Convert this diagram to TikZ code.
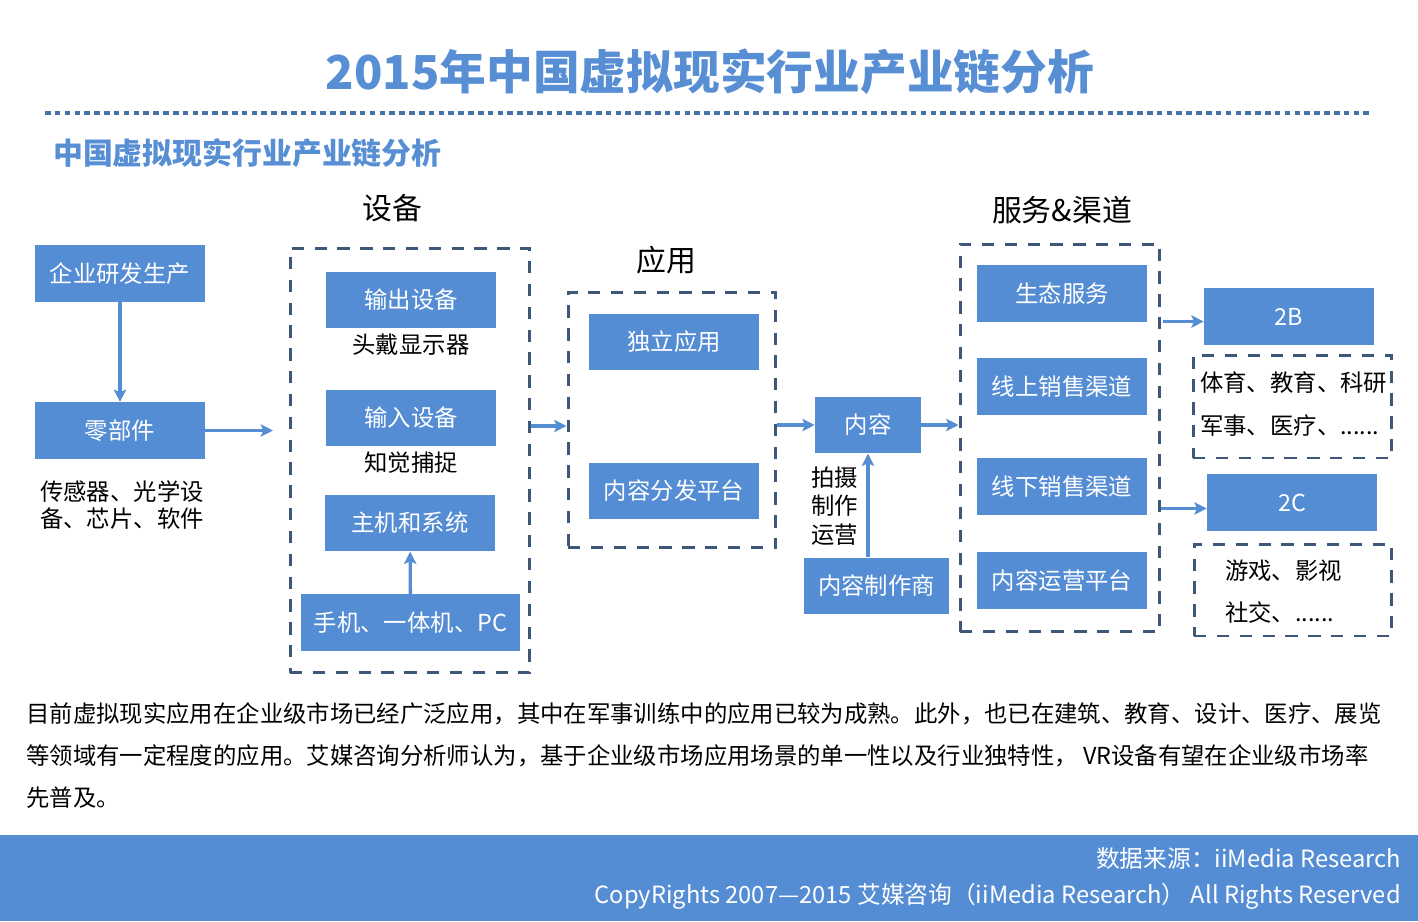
\documentclass[tikz,border=0pt]{standalone}
\usepackage{fontspec}
\setmainfont{Noto Sans CJK SC}
\usetikzlibrary{calc, positioning, arrows.meta}

\definecolor{vrblue}{RGB}{85,141,213}
\definecolor{vrtitle}{RGB}{88,143,212}
\definecolor{vrdash}{RGB}{62,88,122}

\begin{document}
\begin{tikzpicture}[x=0.02cm, y=-0.02cm,
	blk/.style={fill=vrblue, text=white, minimum width=3.4cm, minimum height=1.13cm, inner sep=0pt, font=\fontsize{13.3}{16}\selectfont},
	dbox/.style={draw=vrdash, line width=1.7pt, dash pattern=on 7pt off 6pt, inner sep=0pt},
	arr/.style={-{Stealth[length=7pt, width=7pt, inset=1.5pt]}, draw=vrblue, line width=1.9pt},
	lbl/.style={font=\fontsize{13.3}{16}\selectfont},
	head/.style={font=\fontsize{17}{20}\selectfont}]
	\useasboundingbox (0,0) rectangle (1418,921);

	% titles
	\node[font=\fontsize{26.6}{30}\selectfont\bfseries, text=vrtitle] (title) at (710,72) {2015年中国虚拟现实行业产业链分析};
	\draw[draw=vrtitle!80!black, line width=2.2pt, dash pattern=on 3.2pt off 2.4pt] (45,113) -- (1370,113);
	\node[font=\fontsize{17}{20}\selectfont\bfseries, text=vrtitle, anchor=west] (subtitle) at (47,153) {中国虚拟现实行业产业链分析};

	\node[head] (hsb) at (392,208) {设备};
	\node[head] (hyy) at (666,260) {应用};
	\node[head] (hfw) at (1062,210) {服务\&渠道};

	% dashed groups
	\node[dbox, minimum width=4.8cm, minimum height=8.5cm] (sbox) at (410,460.5) {};
	\node[dbox, minimum width=4.16cm, minimum height=5.12cm] (ybox) at (672,420) {};
	\node[dbox, minimum width=4cm, minimum height=7.76cm] (fbox) at (1060,438) {};
	\node[dbox, minimum width=3.98cm, minimum height=2.06cm] (bbox) at (1292.5,406.5) {};
	\node[dbox, minimum width=3.96cm, minimum height=1.84cm] (cbox) at (1293,590) {};

	% blocks
	\node[blk] (qiye) at (120,273.5) {企业研发生产};
	\node[blk] (ling) at (120,430.5) {零部件};
	\node[lbl, anchor=north west, align=left, font=\fontsize{13.3}{15.5}\selectfont] (lingtxt) at (34,474) {传感器、光学设\\备、芯片、软件};

	\node[blk] (shuchu) at (411,300) {输出设备};
	\node[lbl] (shuchutxt) at (411,345) {头戴显示器};
	\node[blk] (shuru) at (411,418) {输入设备};
	\node[lbl] (shurutxt) at (411,463) {知觉捕捉};
	\node[blk] (zhuji) at (410,523) {主机和系统};
	\node[blk, minimum width=4.38cm] (shouji) at (410.5,622.5) {手机、一体机、PC};

	\node[blk] (duli) at (674,342) {独立应用};
	\node[blk] (fenfa) at (674,491) {内容分发平台};

	\node[blk, minimum width=2.12cm] (neirong) at (868,425) {内容};
	\node[blk, minimum width=2.9cm] (zhizuo) at (876.5,586) {内容制作商};
	\node[lbl, anchor=east, align=left, font=\fontsize{13.3}{16.2}\selectfont] (paishe) at (864,506) {拍摄\\制作\\运营};

	\node[blk] (shengtai) at (1062,293.5) {生态服务};
	\node[blk] (xianshang) at (1062,386.5) {线上销售渠道};
	\node[blk] (xianxia) at (1062,486.5) {线下销售渠道};
	\node[blk] (yunying) at (1062,580.5) {内容运营平台};

	\node[blk] (tob) at (1289,316.5) {2B};
	\node[lbl, anchor=west] (tobtxt1) at (1194,383) {体育、教育、科研};
	\node[lbl, anchor=west] (tobtxt2) at (1194,426) {军事、医疗、......};
	\node[blk] (toc) at (1292,502.5) {2C};
	\node[lbl, anchor=west] (toctxt1) at (1219,571) {游戏、影视};
	\node[lbl, anchor=west] (toctxt2) at (1219,613) {社交、......};

	% arrows
	\coordinate (sin) at (273,430.5);
	\draw[arr] (qiye) -- (ling);
	\draw[arr] (ling) -- (sin);
	\draw[arr] (shouji) -- (zhuji);
	\draw[arr] ($(sbox.east |- ybox.center)+(0,6)$) -- ($(ybox.west)+(0,6)$);
	\draw[arr] (ybox.east |- neirong.west) -- (neirong.west);
	\draw[arr] (neirong.east) -- (fbox.west |- neirong.east);
	\draw[arr] (zhizuo.north -| neirong.south) -- (neirong.south);
	\draw[arr] ($(fbox.east |- tob.west)+(2,5)$) -- ($(tob.west)+(0,5)$);
	\draw[arr] ($(fbox.east |- toc.west)+(0,6)$) -- ($(toc.west)+(0,6)$);

	% note
	\node[anchor=north west, align=left, inner sep=0pt, font=\fontsize{13.3}{23.9}\selectfont] (note) at (26,702) {目前虚拟现实应用在企业级市场已经广泛应用，其中在军事训练中的应用已较为成熟。此外，也已在建筑、教育、设计、医疗、展览\\等领域有一定程度的应用。艾媒咨询分析师认为，基于企业级市场应用场景的单一性以及行业独特性， VR设备有望在企业级市场率\\先普及。};

	% footer
	\fill[vrblue] (0,835) rectangle (1418,921);
	\node[anchor=east, text=white, font=\fontsize{13.5}{16}\selectfont] (src) at (1407,858) {数据来源：iiMedia Research};
	\node[anchor=east, text=white, font=\fontsize{13.5}{16}\selectfont] (copy) at (1407,896) {CopyRights 2007—2015 艾媒咨询（iiMedia Research） All Rights Reserved};
\end{tikzpicture}
\end{document}
